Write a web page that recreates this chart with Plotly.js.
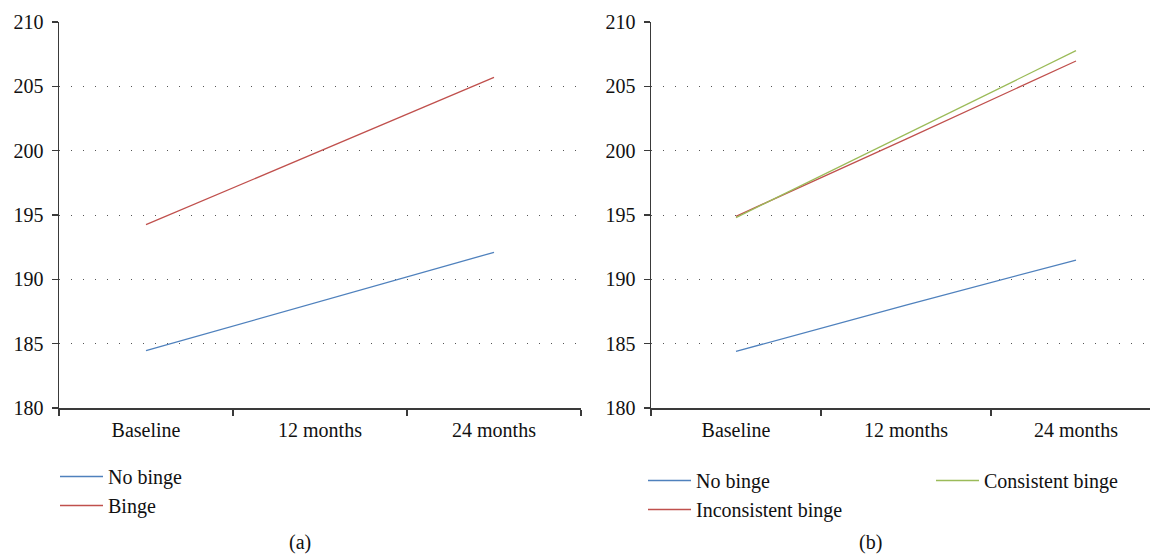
<!DOCTYPE html>
<html>
<head>
<meta charset="utf-8">
<script src="https://cdn.plot.ly/plotly-3.0.1.min.js"></script>
<style>html,body{margin:0;padding:0;background:#fff;overflow:hidden}#chart{width:1150px;height:558px}</style>
</head>
<body>
<div id="chart"></div>
<script>
// Categories (time points)
const timepoints = ["Baseline", "12 months", "24 months"];

// Panel (a)
const aNoBinge = [184.45, 188.3, 192.1];
const aBinge = [194.25, 200.0, 205.7];

// Panel (b)
const bNoBinge = [184.4, 188.0, 191.5];
const bInconsistentBinge = [194.9, 200.9, 206.97];
const bConsistentBinge = [194.8, 201.3, 207.77];

// Y ticks
const yTicks = [180, 185, 190, 195, 200, 205, 210];

const FONT = "'Liberation Serif', 'Times New Roman', serif";
const BLUE = "#4F81BD", RED = "#C0504D", GREEN = "#9BBB59";
const W = 1150, H = 558;

const traces = [
  {x: timepoints, y: aNoBinge, name: "No binge", type: "scatter", mode: "lines",
   line: {color: BLUE, width: 1.3}, xaxis: "x", yaxis: "y", legend: "legend"},
  {x: timepoints, y: aBinge, name: "Binge", type: "scatter", mode: "lines",
   line: {color: RED, width: 1.3}, xaxis: "x", yaxis: "y", legend: "legend"},
  {x: timepoints, y: bNoBinge, name: "No binge", type: "scatter", mode: "lines",
   line: {color: BLUE, width: 1.3}, xaxis: "x2", yaxis: "y2", legend: "legend2"},
  {x: timepoints, y: bInconsistentBinge, name: "Inconsistent binge", type: "scatter", mode: "lines",
   line: {color: RED, width: 1.3}, xaxis: "x2", yaxis: "y2", legend: "legend2"},
  {x: timepoints, y: bConsistentBinge, name: "Consistent binge", type: "scatter", mode: "lines",
   line: {color: GREEN, width: 1.3}, xaxis: "x2", yaxis: "y2", legend: "legend3"}
];

const xCommon = {
  type: "category", showgrid: false, zeroline: false,
  showline: true, linecolor: "#3a3a3a", linewidth: 1.5,
  ticks: "outside", tickson: "boundaries", ticklen: 6, tickcolor: "#3a3a3a", tickwidth: 1.3,
  ticklabelstandoff: 3,
  tickfont: {family: FONT, size: 20, color: "#111"}, fixedrange: true
};
const yCommon = {
  range: [180, 210], tickvals: yTicks, showgrid: true,
  gridcolor: "#555", gridwidth: 1, griddash: "1px,11px",
  zeroline: false, showline: true, linecolor: "#3a3a3a", linewidth: 1.5,
  ticks: "outside", ticklen: 6, tickcolor: "#3a3a3a", tickwidth: 1.3,
  ticklabelstandoff: 4,
  tickfont: {family: FONT, size: 20, color: "#111"}, fixedrange: true,
  domain: [(H - 408) / H, (H - 22) / H]
};

const legendCommon = {
  font: {family: FONT, size: 20, color: "#111"}, bgcolor: "rgba(0,0,0,0)",
  orientation: "v", xanchor: "left", yanchor: "top", itemclick: false, itemdoubleclick: false,
  tracegroupgap: 0, itemwidth: 43
};

const layout = {
  width: W, height: H,
  margin: {l: 0, r: 0, t: 0, b: 0},
  paper_bgcolor: "#fff", plot_bgcolor: "#fff",
  font: {family: FONT, size: 20, color: "#111"},
  xaxis: Object.assign({}, xCommon, {domain: [59 / W, 581 / W], anchor: "y", range: [-0.5, 2.5]}),
  yaxis: Object.assign({}, yCommon, {anchor: "x"}),
  xaxis2: Object.assign({}, xCommon, {domain: [651 / W, 1], anchor: "y2", range: [-0.5, -0.5 + 499 / 170]}),
  yaxis2: Object.assign({}, yCommon, {anchor: "x2"}),
  legend: Object.assign({}, legendCommon, {x: 55 / W, y: (H - 457) / H}),
  legend2: Object.assign({}, legendCommon, {x: 643 / W, y: (H - 461) / H}),
  legend3: Object.assign({}, legendCommon, {x: 931 / W, y: (H - 461) / H}),
  showlegend: true,
  annotations: [
    {text: "(a)", xref: "paper", yref: "paper", x: 300 / W, y: (H - 542) / H,
     showarrow: false, xanchor: "center", yanchor: "middle", font: {family: FONT, size: 20, color: "#111"}},
    {text: "(b)", xref: "paper", yref: "paper", x: 870 / W, y: (H - 542) / H,
     showarrow: false, xanchor: "center", yanchor: "middle", font: {family: FONT, size: 20, color: "#111"}}
  ]
};

Plotly.newPlot("chart", traces, layout, {displayModeBar: false, staticPlot: true});
</script>
</body>
</html>
